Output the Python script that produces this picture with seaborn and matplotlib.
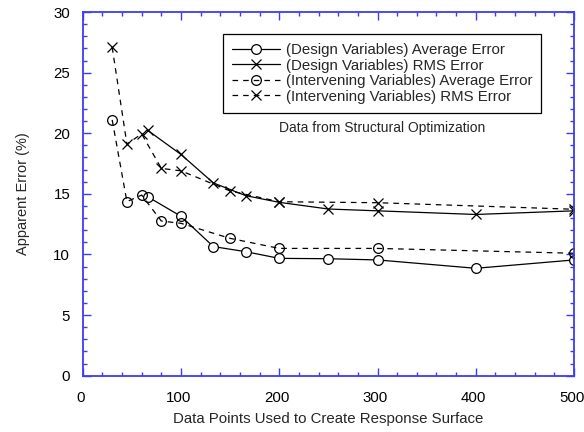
import matplotlib
matplotlib.use("Agg")
import matplotlib.pyplot as plt
import matplotlib.transforms as mtransforms
import seaborn as sns
import pandas as pd
from matplotlib.ticker import MultipleLocator

sns.set_theme(style="white")
plt.rcParams['font.family'] = ['Liberation Sans', 'DejaVu Sans']

design_x = [66, 100, 133, 166, 200, 250, 300, 400, 500]
design_avg = [14.77, 13.15, 10.65, 10.23, 9.68, 9.65, 9.55, 8.86, 9.55]
design_rms = [20.25, 18.25, 15.9, 14.85, 14.3, 13.75, 13.6, 13.3, 13.6]

interv_x = [30, 45, 60, 80, 100, 150, 200, 300, 500]
interv_avg = [21.1, 14.36, 14.9, 12.76, 12.57, 11.33, 10.5, 10.5, 10.1]
interv_rms = [27.1, 19.1, 19.95, 17.1, 16.9, 15.24, 14.35, 14.27, 13.73]

labels = ["(Design Variables) Average Error",
          "(Design Variables) RMS Error",
          "(Intervening Variables) Average Error",
          "(Intervening Variables) RMS Error"]

fig = plt.figure(figsize=(5.84, 4.32), dpi=100)
ax = fig.add_axes([0.1416, 0.1303, 0.8414, 0.8419])

blue = '#3c3cf0'
dash = (0, (4.5, 4))
series = [
    (design_x, design_avg, labels[0], 'o', '-', 'white'),
    (design_x, design_rms, labels[1], 'x', '-', 'none'),
    (interv_x, interv_avg, labels[2], 'o', dash, 'none'),
    (interv_x, interv_rms, labels[3], 'x', dash, 'none'),
]
for xs, ys, lab, mk, ls, fc in series:
    df = pd.DataFrame({"x": xs, "y": ys})
    sns.lineplot(data=df, x="x", y="y", ax=ax, sort=False, estimator=None,
                 color='black', linewidth=0.9, linestyle=ls, marker=mk,
                 markersize=7 if mk == 'o' else 7.5, markerfacecolor=fc,
                 markeredgecolor='black', markeredgewidth=0.9, label=lab)

ax.set_xlim(0, 500)
ax.set_ylim(0, 30)
ax.xaxis.set_major_locator(MultipleLocator(100))
ax.xaxis.set_minor_locator(MultipleLocator(20))
ax.yaxis.set_major_locator(MultipleLocator(5))
ax.yaxis.set_minor_locator(MultipleLocator(1))
ax.tick_params(which='both', direction='in', top=True, right=True,
               bottom=True, left=True, color=blue, width=1.0,
               labelcolor='black', labelsize=10.8)
ax.tick_params(which='major', length=6)
ax.tick_params(which='minor', length=3)
ax.tick_params(axis='x', which='major', pad=11)
ax.tick_params(axis='y', which='major', pad=9)
for s in ax.spines.values():
    s.set_color(blue)
    s.set_linewidth(1.3)
    s.set_visible(True)

shift = mtransforms.ScaledTranslation(-0.025, 0, fig.dpi_scale_trans)
for lbl in ax.get_xticklabels():
    lbl.set_transform(lbl.get_transform() + shift)

ax.set_xlabel("Data Points Used to Create Response Surface", fontsize=10.8, labelpad=5)
ax.set_ylabel("Apparent Error (%)", fontsize=10.5, labelpad=17)

leg = ax.legend(loc='upper left', bbox_to_anchor=(0.285, 0.9395),
                fontsize=10.8, frameon=True, fancybox=False, shadow=False,
                edgecolor='black', framealpha=1, handlelength=3.2,
                handletextpad=0.4, labelspacing=0.1, borderpad=0.6,
                borderaxespad=0)
leg.get_frame().set_linewidth(0.9)

ax.text(0.6086, 0.682, "Data from Structural Optimization", transform=ax.transAxes,
        ha='center', va='center', fontsize=10)

fig.savefig("out.png", dpi=100)
